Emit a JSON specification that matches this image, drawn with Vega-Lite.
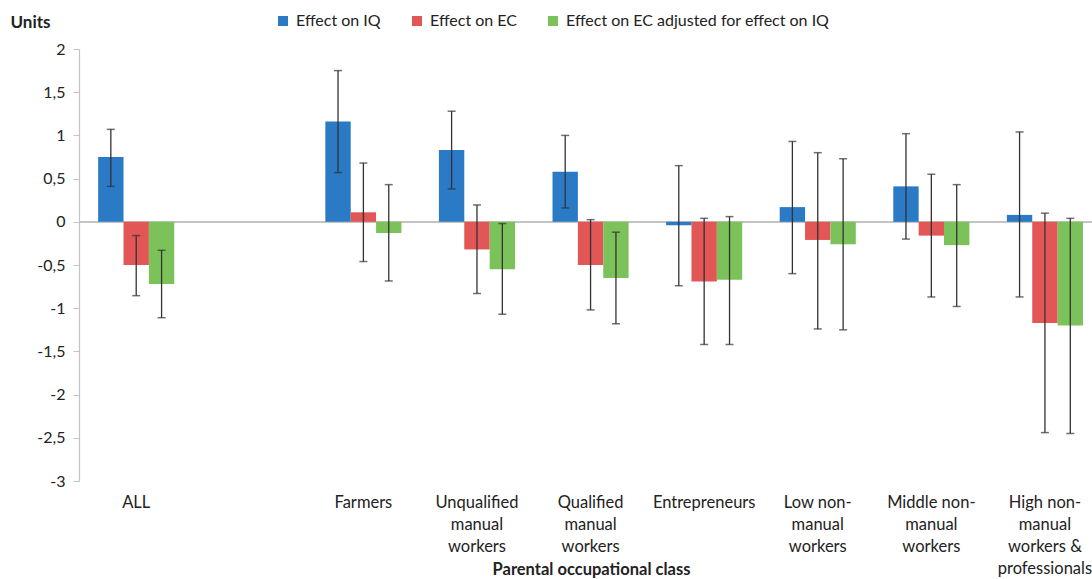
{
  "$schema": "https://vega.github.io/schema/vega-lite/v6.json",
  "autosize": {"type": "none"},
  "width": 1013,
  "height": 432,
  "padding": {"left": 79, "top": 49, "right": 0, "bottom": 98},
  "background": "white",
  "config": {
    "view": {"stroke": null},
    "axis": {"grid": false, "labelFont": "Lato", "titleFont": "Lato", "labelColor": "#222", "titleColor": "#222"},
    "legend": {"labelFont": "Lato"}
  },
  "data": {"values": [
    {"cls": "ALL", "series": "Effect on IQ", "value": 0.75, "lo": 0.41, "hi": 1.07},
    {"cls": "ALL", "series": "Effect on EC", "value": -0.5, "lo": -0.855, "hi": -0.16},
    {"cls": "ALL", "series": "Effect on EC adjusted for effect on IQ", "value": -0.72, "lo": -1.11, "hi": -0.33},
    {"cls": "Farmers", "series": "Effect on IQ", "value": 1.16, "lo": 0.57, "hi": 1.75},
    {"cls": "Farmers", "series": "Effect on EC", "value": 0.11, "lo": -0.46, "hi": 0.68},
    {"cls": "Farmers", "series": "Effect on EC adjusted for effect on IQ", "value": -0.13, "lo": -0.685, "hi": 0.43},
    {"cls": "Unqualified manual workers", "series": "Effect on IQ", "value": 0.83, "lo": 0.38, "hi": 1.28},
    {"cls": "Unqualified manual workers", "series": "Effect on EC", "value": -0.32, "lo": -0.83, "hi": 0.195},
    {"cls": "Unqualified manual workers", "series": "Effect on EC adjusted for effect on IQ", "value": -0.55, "lo": -1.07, "hi": -0.02},
    {"cls": "Qualified manual workers", "series": "Effect on IQ", "value": 0.58, "lo": 0.16, "hi": 1.0},
    {"cls": "Qualified manual workers", "series": "Effect on EC", "value": -0.5, "lo": -1.02, "hi": 0.025},
    {"cls": "Qualified manual workers", "series": "Effect on EC adjusted for effect on IQ", "value": -0.65, "lo": -1.18, "hi": -0.12},
    {"cls": "Entrepreneurs", "series": "Effect on IQ", "value": -0.04, "lo": -0.74, "hi": 0.65},
    {"cls": "Entrepreneurs", "series": "Effect on EC", "value": -0.69, "lo": -1.42, "hi": 0.04},
    {"cls": "Entrepreneurs", "series": "Effect on EC adjusted for effect on IQ", "value": -0.67, "lo": -1.42, "hi": 0.06},
    {"cls": "Low non-manual workers", "series": "Effect on IQ", "value": 0.17, "lo": -0.6, "hi": 0.93},
    {"cls": "Low non-manual workers", "series": "Effect on EC", "value": -0.21, "lo": -1.24, "hi": 0.8},
    {"cls": "Low non-manual workers", "series": "Effect on EC adjusted for effect on IQ", "value": -0.26, "lo": -1.25, "hi": 0.73},
    {"cls": "Middle non-manual workers", "series": "Effect on IQ", "value": 0.41, "lo": -0.2, "hi": 1.02},
    {"cls": "Middle non-manual workers", "series": "Effect on EC", "value": -0.16, "lo": -0.87, "hi": 0.55},
    {"cls": "Middle non-manual workers", "series": "Effect on EC adjusted for effect on IQ", "value": -0.27, "lo": -0.98, "hi": 0.43},
    {"cls": "High non-manual workers & professionals", "series": "Effect on IQ", "value": 0.08, "lo": -0.87, "hi": 1.04},
    {"cls": "High non-manual workers & professionals", "series": "Effect on EC", "value": -1.17, "lo": -2.44, "hi": 0.1},
    {"cls": "High non-manual workers & professionals", "series": "Effect on EC adjusted for effect on IQ", "value": -1.2, "lo": -2.45, "hi": 0.04}
  ]},
  "encoding": {
    "x": {
      "field": "cls", "type": "nominal",
      "scale": {
        "domain": ["ALL", "_gap", "Farmers", "Unqualified manual workers", "Qualified manual workers", "Entrepreneurs", "Low non-manual workers", "Middle non-manual workers", "High non-manual workers & professionals"],
        "paddingInner": 0.33, "paddingOuter": 0.124, "align": 0.68
      },
      "axis": {
        "title": "Parental occupational class", "titleFontSize": 16.5, "titleFontWeight": "bold",
        "titleX": 512, "titleY": 88, "titleBaseline": "middle", "titleAlign": "center",
        "labelAngle": 0, "labelFontSize": 16.5, "labelPadding": 13, "labelLineHeight": 22,
        "labelBaseline": "top", "labelLimit": 0,
        "domain": false, "ticks": false,
        "labelExpr": "datum.value == '_gap' ? '' : datum.value == 'Unqualified manual workers' ? ['Unqualified', 'manual', 'workers'] : datum.value == 'Qualified manual workers' ? ['Qualified', 'manual', 'workers'] : datum.value == 'Low non-manual workers' ? ['Low non-', 'manual', 'workers'] : datum.value == 'Middle non-manual workers' ? ['Middle non-', 'manual', 'workers'] : datum.value == 'High non-manual workers & professionals' ? ['High non-', 'manual', 'workers &', 'professionals'] : datum.label"
      }
    },
    "xOffset": {"field": "series", "type": "nominal", "scale": {"domain": ["Effect on IQ", "Effect on EC", "Effect on EC adjusted for effect on IQ"], "paddingInner": 0, "paddingOuter": 0}}
  },
  "layer": [
    {
      "mark": {"type": "rule", "color": "#c4c4c4", "strokeWidth": 1.5},
      "encoding": {"y": {"datum": 0, "type": "quantitative"}, "x": null, "xOffset": null}
    },
    {
      "mark": {"type": "bar"},
      "encoding": {
        "y": {
          "field": "value", "type": "quantitative",
          "scale": {"domain": [-3, 2], "nice": false, "zero": false},
          "axis": {
            "title": "Units", "titleAngle": 0, "titleX": -69, "titleY": -22, "titleAlign": "left", "titleBaseline": "alphabetic",
            "titleFontSize": 17, "titleFontWeight": "bold",
            "values": [-3, -2.5, -2, -1.5, -1, -0.5, 0, 0.5, 1, 1.5, 2],
            "labelExpr": "replace('' + datum.value, '.', ',')",
            "labelFontSize": 16, "labelPadding": 8, "tickSize": 6, "tickColor": "#c4c4c4", "domainColor": "#c4c4c4", "domainWidth": 1.2
          }
        },
        "color": {
          "field": "series", "type": "nominal",
          "scale": {"domain": ["Effect on IQ", "Effect on EC", "Effect on EC adjusted for effect on IQ"], "range": ["#2a7ac6", "#e25656", "#7cc25b"]},
          "legend": {
            "title": null, "orient": "none", "legendX": 196, "legendY": -36, "direction": "horizontal",
            "symbolType": "square", "symbolSize": 100, "symbolStrokeWidth": 0, "labelFontSize": 16, "labelColor": "#222",
            "labelLimit": 0, "columnPadding": 28, "labelOffset": 5
          }
        }
      }
    },
    {
      "mark": {"type": "rule", "color": "#333", "strokeWidth": 1.3},
      "encoding": {"y": {"field": "lo", "type": "quantitative"}, "y2": {"field": "hi"}}
    },
    {
      "mark": {"type": "tick", "color": "#333", "size": 8, "thickness": 1.5, "orient": "horizontal"},
      "encoding": {"y": {"field": "lo", "type": "quantitative"}}
    },
    {
      "mark": {"type": "tick", "color": "#333", "size": 8, "thickness": 1.5, "orient": "horizontal"},
      "encoding": {"y": {"field": "hi", "type": "quantitative"}}
    }
  ]
}
